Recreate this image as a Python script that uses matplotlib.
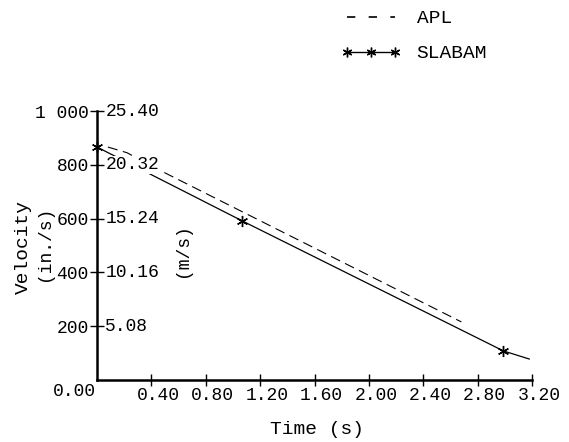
import numpy as np
import matplotlib.pyplot as plt
from matplotlib.lines import Line2D
from matplotlib.transforms import ScaledTranslation

plt.rcParams['font.family'] = ['Liberation Mono', 'DejaVu Sans Mono']

# data
slabam_t = [0.0, 1.07, 2.99, 3.18]
slabam_v = [866, 591, 108, 78]
slabam_mark_t = [0.0, 1.07, 2.99]
slabam_mark_v = [866, 591, 108]

apl_t = [0.08, 0.22, 0.50, 2.68]
apl_v = [866, 845, 770, 216]

x_ticks = [0.40, 0.80, 1.20, 1.60, 2.00, 2.40, 2.80, 3.20]
y_ticks = [200, 400, 600, 800, 1000]
y_labels = ['200', '400', '600', '800', '1 000']
ms_labels = ['5.08', '10.16', '15.24', '20.32', '25.40']

fig = plt.figure(figsize=(5.69, 4.42), dpi=100)
ax = fig.add_axes([97/569, 62/442, 435/569, 269/442])

ax.plot(slabam_t, slabam_v, color='black', lw=0.9, zorder=2, clip_on=False)
ax.plot(slabam_mark_t, slabam_mark_v, ls='none', marker=(6, 2, 0),
        ms=8, mec='black', mew=1.0, zorder=3, clip_on=False)
ax.plot(apl_t, apl_v, color='black', lw=0.8, ls=(0, (9, 5)), zorder=2)

ax.set_xlim(0, 3.2)
ax.set_ylim(0, 1000)
for s in ['top', 'right']:
    ax.spines[s].set_visible(False)
for s in ['left', 'bottom']:
    ax.spines[s].set_linewidth(1.8)

ax.set_xticks(x_ticks)
ax.set_xticklabels(['%.2f' % t for t in x_ticks])
ax.set_yticks(y_ticks)
ax.set_yticklabels(y_labels)
ax.tick_params(axis='x', direction='inout', length=8, width=1.0, pad=1, labelsize=13)
ax.tick_params(axis='y', direction='inout', length=10, width=1.0, pad=1, labelsize=13)
shift = ScaledTranslation(7/100, 0, fig.dpi_scale_trans)
for lab in ax.get_xticklabels():
    lab.set_transform(lab.get_transform() + shift)

# m/s labels just right of the axis
for v, lab in zip(y_ticks, ms_labels):
    ax.annotate(lab, xy=(0, v), xytext=(6, 0), textcoords='offset points',
                ha='left', va='center', fontsize=13, zorder=5,
                bbox=dict(facecolor='white', edgecolor='none', pad=0.5))

ax.annotate('0.00', xy=(0, 0), xytext=(-1, -2), textcoords='offset points',
            ha='right', va='top', fontsize=13, annotation_clip=False)

fig.text(23/569, 1 - 247/442, 'Velocity', rotation=90, ha='center', va='center', fontsize=14)
fig.text(45/569, 1 - 243/442, '(in./s)', rotation=90, ha='center', va='center', fontsize=13)
fig.text(182/569, 1 - 250/442, '(m/s)', rotation=90, ha='center', va='center', fontsize=13)
fig.text(317/569, 1 - 430/442, 'Time (s)', ha='center', va='center', fontsize=14)

h_apl = Line2D([], [], color='black', lw=1.2, ls=(0, (5, 8)))
h_sla = Line2D([], [], color='black', lw=1.0, marker=(6, 2, 0), ms=7)
fig.legend([h_apl, h_sla], ['APL', 'SLABAM'], loc='upper left',
           bbox_to_anchor=(331/569, 1.0), frameon=False, fontsize=14,
           borderpad=0, handlelength=3.1, numpoints=3, labelspacing=0.9,
           handletextpad=0.8)

fig.savefig('out.png', dpi=100)
